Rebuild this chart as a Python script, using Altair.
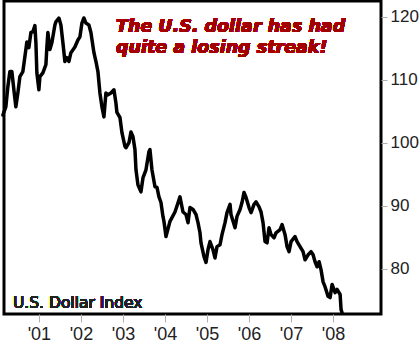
import altair as alt
import pandas as pd

years = [
    2000.143, 2000.214, 2000.262, 2000.310, 2000.357, 2000.405, 2000.452, 2000.500,
    2000.548, 2000.619, 2000.690, 2000.714, 2000.762, 2000.810, 2000.857, 2000.905,
    2000.929, 2000.952, 2001.000, 2001.024, 2001.095, 2001.167, 2001.190, 2001.214,
    2001.262, 2001.310, 2001.381, 2001.405, 2001.476, 2001.524, 2001.571, 2001.619,
    2001.667, 2001.714, 2001.762, 2001.857, 2001.929, 2001.976, 2002.024, 2002.071,
    2002.119, 2002.190, 2002.238, 2002.310, 2002.357, 2002.405, 2002.452, 2002.500,
    2002.548, 2002.595, 2002.643, 2002.714, 2002.786, 2002.833, 2002.857, 2002.929,
    2002.976, 2003.048, 2003.071, 2003.143, 2003.190, 2003.238, 2003.286, 2003.310,
    2003.357, 2003.429, 2003.476, 2003.548, 2003.619, 2003.643, 2003.690, 2003.762,
    2003.810, 2003.857, 2003.905, 2003.952, 2003.976, 2004.024, 2004.119, 2004.238,
    2004.357, 2004.429, 2004.500, 2004.548, 2004.595, 2004.667, 2004.738, 2004.786,
    2004.833, 2004.857, 2004.929, 2004.976, 2005.024, 2005.071, 2005.143, 2005.190,
    2005.238, 2005.310, 2005.357, 2005.429, 2005.476, 2005.548, 2005.571, 2005.667,
    2005.714, 2005.786, 2005.833, 2005.881, 2005.929, 2006.000, 2006.048, 2006.119,
    2006.167, 2006.238, 2006.286, 2006.333, 2006.381, 2006.429, 2006.476, 2006.524,
    2006.595, 2006.643, 2006.738, 2006.786, 2006.857, 2006.905, 2006.952, 2007.000,
    2007.095, 2007.143, 2007.214, 2007.286, 2007.333, 2007.405, 2007.476, 2007.524,
    2007.571, 2007.619, 2007.667, 2007.714, 2007.762, 2007.810, 2007.881, 2007.929,
    2007.976, 2008.048, 2008.095, 2008.167, 2008.190, 2008.214,
]

# U.S. Dollar Index values
index_values = [
    104.4, 105.7, 108.9, 111.3, 111.3, 108.4, 105.7, 107.9,
    110.5, 111.3, 114.8, 116.0, 115.1, 117.5, 117.6, 118.6,
    115.9, 111.1, 108.4, 110.5, 111.1, 112.4, 115.2, 117.5,
    114.8, 115.9, 118.7, 119.2, 119.8, 118.7, 115.9, 112.9,
    113.5, 112.9, 114.3, 115.2, 116.3, 116.8, 119.0, 119.8,
    119.0, 118.7, 117.5, 114.3, 112.9, 111.3, 107.9, 105.7,
    104.1, 107.9, 107.6, 107.9, 108.4, 106.3, 104.8, 104.0,
    101.6, 99.4, 99.2, 100.0, 101.7, 101.0, 98.9, 95.7,
    93.3, 92.2, 94.4, 95.7, 98.6, 98.9, 95.7, 93.0,
    92.9, 91.4, 90.5, 88.3, 87.5, 85.1, 87.5, 89.0,
    91.4, 89.0, 88.6, 87.3, 89.7, 89.4, 88.6, 87.3,
    85.7, 84.1, 81.9, 81.0, 83.0, 84.3, 83.0, 81.7,
    83.5, 83.8, 85.4, 87.3, 88.9, 90.2, 88.6, 86.5,
    88.3, 89.4, 90.5, 92.1, 91.3, 89.7, 88.9, 90.2,
    90.6, 89.8, 89.0, 87.3, 84.3, 84.1, 86.5, 85.4,
    84.9, 85.7, 86.2, 87.0, 85.4, 83.5, 82.7, 84.3,
    85.1, 84.3, 83.5, 82.7, 81.4, 82.2, 82.7, 82.2,
    81.1, 80.3, 81.1, 79.8, 77.9, 77.1, 75.6, 75.4,
    77.5, 76.2, 76.7, 75.9, 73.5, 73.0,
]

x_ticks = [2001, 2002, 2003, 2004, 2005, 2006, 2007, 2008]
y_ticks = [80, 90, 100, 110, 120]
title_lines = ["The U.S. dollar has had", "quite a losing streak!"]
series_label = "U.S. Dollar Index"

df = pd.DataFrame({"year": years, "value": index_values})

x_scale = alt.Scale(domain=[2000.17, 2009.14], nice=False, zero=False)
y_scale = alt.Scale(domain=[72.8, 122.5], nice=False, zero=False)

line = alt.Chart(df).mark_line(
    color="black", strokeWidth=3.5, strokeJoin="round", strokeCap="round"
).encode(
    x=alt.X("year:Q", scale=x_scale, title=None,
            axis=alt.Axis(values=x_ticks,
                          labelExpr="\"'0\" + (datum.value - 2000)",
                          tickSize=8, labelPadding=3, labelFontSize=18,
                          tickColor="#b0b0b0", domain=False, grid=False,
                          labelFont="Liberation Sans", labelColor="#222222")),
    y=alt.Y("value:Q", scale=y_scale, title=None,
            axis=alt.Axis(orient="right", values=y_ticks, tickSize=6,
                          labelPadding=3, labelFontSize=17,
                          tickColor="#b0b0b0", domain=False, grid=False,
                          labelFont="Liberation Sans", labelColor="#222222")),
)

title = alt.Chart(df).mark_text(
    text=title_lines, align="left", baseline="alphabetic",
    font="DejaVu Sans", fontSize=17.5, fontWeight="bold", fontStyle="italic",
    color="#a30000", lineHeight=21,
).encode(x=alt.value(112), y=alt.value(31))

label = alt.Chart(df).mark_text(
    text=series_label, align="left", baseline="alphabetic",
    font="DejaVu Sans", fontSize=15.5, color="#222222",
).encode(x=alt.value(9), y=alt.value(307))

chart = alt.layer(line, title, label).properties(
    width=377, height=313,
    padding={"left": 1, "top": 1, "right": 0, "bottom": 0},
    background="white",
).configure_view(
    stroke="black", strokeWidth=3
)

chart.save("out.html", embed_options={"renderer": "svg", "actions": False})
